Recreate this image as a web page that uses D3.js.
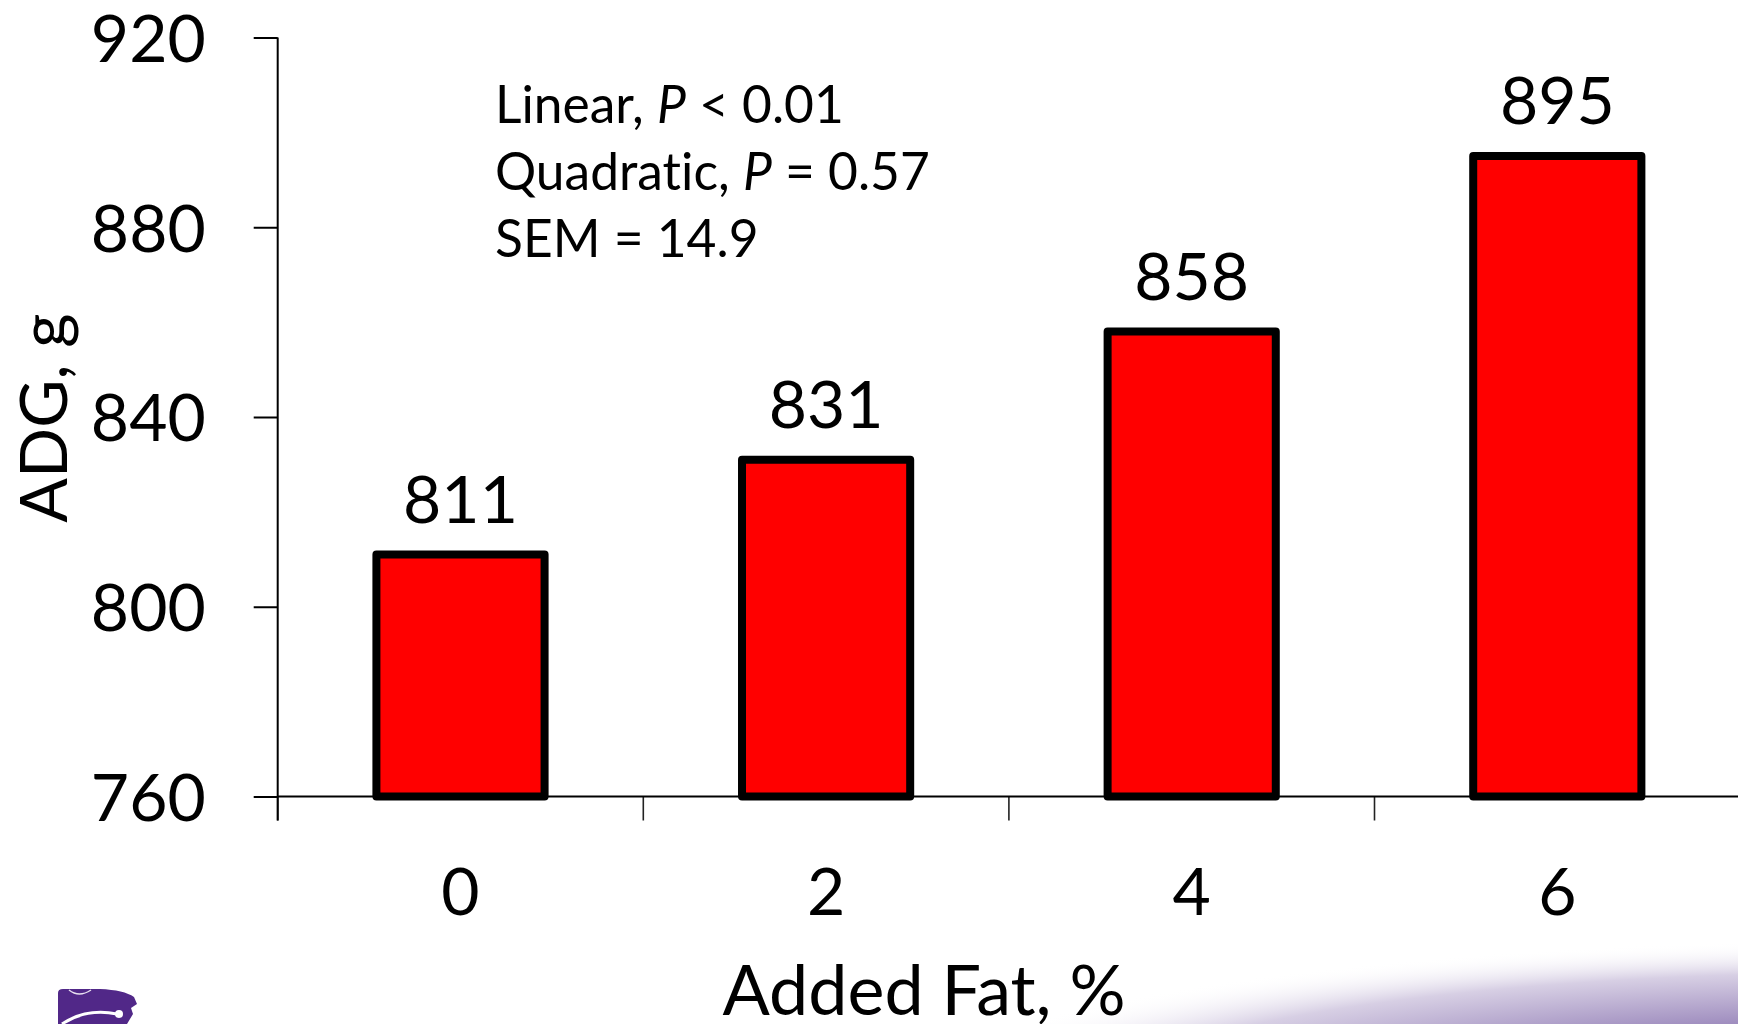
<!DOCTYPE html>
<html>
<head>
<meta charset="utf-8">
<script src="https://cdn.jsdelivr.net/npm/d3@7"></script>
<style>
  html, body { margin: 0; padding: 0; background: #ffffff; }
  svg { display: block; }
  text { font-family: Lato, "Open Sans", sans-serif; fill: #000; font-variant-ligatures: none; }
</style>
</head>
<body>
<svg id="chart" width="1738" height="1024"></svg>
<script>
// Average daily gain by level of added dietary fat
const categories = ["0", "2", "4", "6"];
const adg = [811, 831, 858, 895];
const yTicks = [760, 800, 840, 880, 920];
const yDomain = [760, 920];
const xTitle = "Added Fat, %";
const yTitle = "ADG, g";
// Each line is a list of [text, italic] runs
const statsLines = [
  [["Linear, ", false], ["P", true], [" < 0.01", false]],
  [["Quadratic, ", false], ["P", true], [" = 0.57", false]],
  [["SEM = 14.9", false]]
];

const W = 1738, H = 1024;
const svg = d3.select("#chart");

// ---- decorative footer: soft purple wash and wildcat mark ----
const defs = svg.append("defs");
const wash = defs.append("radialGradient")
  .attr("id", "wash")
  .attr("gradientUnits", "userSpaceOnUse")
  .attr("cx", 1900).attr("cy", 1100).attr("r", 1000)
  .attr("gradientTransform", "translate(1900,1100) scale(1,0.16) translate(-1900,-1100)");
wash.append("stop").attr("offset", 0).attr("stop-color", "rgb(120,95,165)");
wash.append("stop").attr("offset", 0.5).attr("stop-color", "rgb(158,140,190)");
wash.append("stop").attr("offset", 0.8).attr("stop-color", "rgb(215,207,228)");
wash.append("stop").attr("offset", 1).attr("stop-color", "#ffffff").attr("stop-opacity", 0);
svg.append("rect").attr("x", 900).attr("y", 880).attr("width", 838).attr("height", 144)
  .attr("fill", "url(#wash)");

const logo = svg.append("g").attr("class", "logo");
logo.append("path")
  .attr("d", "M58,1024 L58,993 Q58,989 63,989 L100,989 Q124,990 134,997 L137,1004 L131,1008 L133,1014 L127,1024 Z")
  .attr("fill", "#512888");
logo.append("path").attr("d", "M69,990 Q79,998 91,990")
  .attr("fill", "none").attr("stroke", "#e8e0f0").attr("stroke-width", 1.5);
logo.append("path").attr("d", "M62,1024 Q86,1008 117,1014")
  .attr("fill", "none").attr("stroke", "#ffffff").attr("stroke-width", 3);
logo.append("circle").attr("cx", 119).attr("cy", 1014).attr("r", 4).attr("fill", "#ffffff");

// ---- scales ----
const plotLeft = 277.7, plotBottom = 796.5, plotTop = 37.5;
const step = 365.6;
const y = d3.scaleLinear().domain(yDomain).range([plotBottom, plotTop]);
const x = d3.scaleBand().domain(categories)
  .range([plotLeft, plotLeft + step * categories.length])
  .paddingInner(0.54).paddingOuter(0.27);

// ---- bars ----
svg.append("g").selectAll("rect")
  .data(adg)
  .join("rect")
  .attr("x", (d, i) => x(categories[i]))
  .attr("width", x.bandwidth())
  .attr("y", d => y(d))
  .attr("height", d => y(yDomain[0]) - y(d))
  .attr("fill", "#ff0000")
  .attr("stroke", "#000")
  .attr("stroke-width", 8)
  .attr("stroke-linejoin", "round");

// ---- y axis ----
const yAxis = svg.append("g")
  .attr("transform", `translate(${plotLeft},0)`)
  .call(d3.axisLeft(y).tickValues(yTicks).tickSize(24).tickPadding(48).tickFormat(d3.format("d")));
yAxis.select(".domain").remove();
yAxis.selectAll(".tick line").attr("stroke", "#000").attr("stroke-width", 2);
yAxis.selectAll(".tick text")
  .attr("dy", "0.36em")
  .style("font-family", "Lato, sans-serif")
  .style("font-size", "66px")
  .attr("fill", "#000");

// ---- x axis ----
const xAxis = svg.append("g")
  .attr("transform", `translate(0,${plotBottom})`)
  .call(d3.axisBottom(x).tickSize(0).tickPadding(71.5));
xAxis.select(".domain").remove();
xAxis.selectAll(".tick text")
  .style("font-family", "Lato, sans-serif")
  .style("font-size", "66px")
  .attr("fill", "#000");

// category boundary ticks
const boundaries = categories.map(c => x(c) - x.step() * x.paddingOuter());
boundaries.push(x.range()[1]);
svg.append("g").selectAll("line")
  .data(boundaries)
  .join("line")
  .attr("x1", d => d).attr("x2", d => d)
  .attr("y1", plotBottom).attr("y2", plotBottom + 24)
  .attr("stroke", "#222").attr("stroke-width", 1.6);

// axis lines
svg.append("line")
  .attr("x1", plotLeft).attr("x2", plotLeft)
  .attr("y1", y(yDomain[1])).attr("y2", plotBottom + 24)
  .attr("stroke", "#000").attr("stroke-width", 2);
svg.append("line")
  .attr("x1", plotLeft).attr("x2", W)
  .attr("y1", plotBottom).attr("y2", plotBottom)
  .attr("stroke", "#000").attr("stroke-width", 2);

// ---- value labels ----
svg.append("g").selectAll("text")
  .data(adg)
  .join("text")
  .attr("x", (d, i) => x(categories[i]) + x.bandwidth() / 2)
  .attr("y", d => y(d) - 32)
  .attr("text-anchor", "middle")
  .style("font-size", "66px")
  .text(d => d);

// ---- axis titles ----
svg.append("text")
  .attr("x", 924).attr("y", 1015)
  .attr("text-anchor", "middle")
  .style("font-size", "70px")
  .text(xTitle);
svg.append("text")
  .attr("transform", "translate(67,418) rotate(-90)")
  .attr("text-anchor", "middle")
  .style("font-size", "66px")
  .text(yTitle);

// ---- statistics note ----
const noteX = 495;
const note = svg.append("text")
  .attr("x", noteX).attr("y", 123)
  .style("font-size", "51.5px");
statsLines.forEach((runs, li) => {
  runs.forEach((run, ri) => {
    const t = note.append("tspan").text(run[0]);
    if (ri === 0) t.attr("x", noteX).attr("y", 123 + li * 67);
    if (run[1]) t.style("font-style", "italic");
  });
});
</script>
</body>
</html>
